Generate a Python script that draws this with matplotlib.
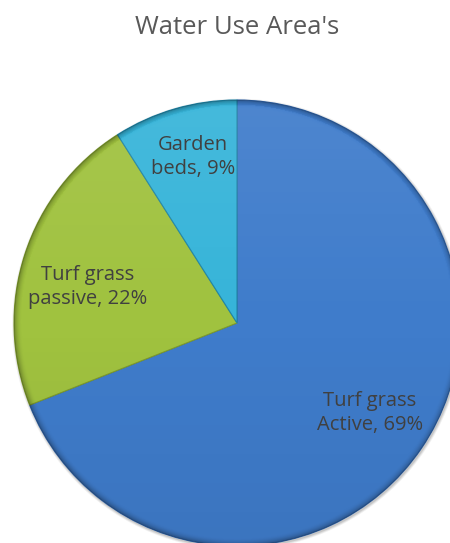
import numpy as np
import matplotlib
matplotlib.use("Agg")
import matplotlib.pyplot as plt
from matplotlib.patches import Circle

# Data
categories = ["Turf grass\nActive", "Turf grass\npassive", "Garden\nbeds"]
values = [69, 22, 9]
colors = ["#3F7CCB", "#A0C23F", "#36B4D9"]
edge_colors = ["#2F62A6", "#7E9B2C", "#1F86A8"]
label_dist = [0.72, 0.69, 0.77]
label_angle_shift = [0.0, 4.4, -1.3]
title = "Water Use Area's"

W, H = 450, 543
fig = plt.figure(figsize=(W / 100, H / 100), dpi=100)
fig.patch.set_facecolor("white")

cx, cy, r = 237, 323, 223
ax = fig.add_axes([(cx - r) / W, (H - cy - r) / H, 2 * r / W, 2 * r / H])

wedges, _ = ax.pie(values, colors=colors, startangle=90, counterclock=False,
                   radius=1.0, wedgeprops=dict(linewidth=0.8))
ax.set_xlim(-1, 1)
ax.set_ylim(-1, 1)
ax.set_aspect("equal")
ax.axis("off")
for w, ec in zip(wedges, edge_colors):
    w.set_edgecolor(ec)
    w.set_clip_on(False)

# soft shadow outside the pie
for k, a in zip([1.012, 1.008, 1.004], [0.06, 0.08, 0.10]):
    ax.add_patch(Circle((0.004, -0.006), k, facecolor="black", alpha=a,
                        edgecolor="none", zorder=0.5, clip_on=False))

# subtle shading overlay (lighter top, darker rim)
n = 500
xs = np.linspace(-1, 1, n)
X, Y = np.meshgrid(xs, xs[::-1])
R = np.sqrt(X ** 2 + Y ** 2)
img = np.zeros((n, n, 4))
rim = np.clip((R - 0.965) / 0.035, 0, 1)
top = np.clip(Y, 0, 1)
dark_alpha = 0.28 * rim ** 2 + 0.06 * np.clip(-Y, 0, 1)
light_alpha = 0.08 * top * (1 - rim)
img[..., 0:3] = np.where(light_alpha[..., None] > dark_alpha[..., None], 1.0, 0.0)
img[..., 3] = np.maximum(light_alpha, dark_alpha)
im = ax.imshow(img, extent=(-1, 1, -1, 1), zorder=3, interpolation="bilinear")
ax.set_xlim(-1, 1)
ax.set_ylim(-1, 1)
circ = Circle((0, 0), 1.0, transform=ax.transData)
im.set_clip_path(circ)
im.set_clip_on(True)

# labels
for w, cat, v, d, s in zip(wedges, categories, values, label_dist, label_angle_shift):
    ang = np.deg2rad((w.theta1 + w.theta2) / 2 + s)
    ax.text(d * np.cos(ang), d * np.sin(ang), f"{cat}, {v}%",
            ha="center", va="center", fontsize=14.5, color="#404040",
            family="Open Sans", linespacing=1.3, zorder=5)

fig.text(237 / W, 1 - 27 / H, title, ha="center", va="center",
         fontsize=18.5, color="#595959", family="Open Sans")

fig.savefig("out.png", dpi=100, facecolor="white")
